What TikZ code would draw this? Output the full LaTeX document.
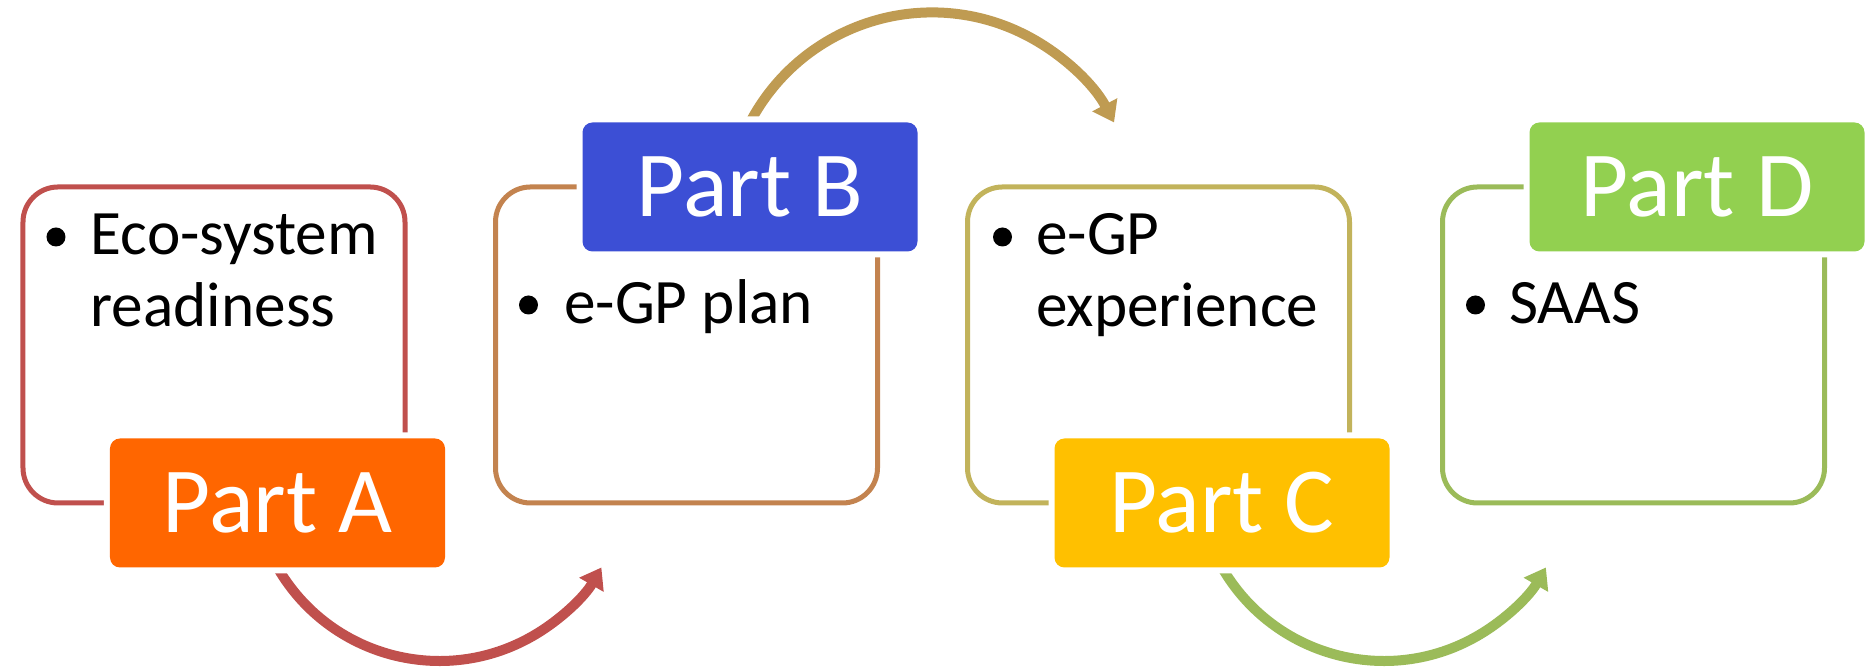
\documentclass[tikz,border=0pt]{standalone}
\usepackage{fontspec}
\setmainfont{Carlito}
\usetikzlibrary{arrows.meta,positioning,backgrounds}

\definecolor{lineA}{HTML}{C0504D}
\definecolor{lineB}{HTML}{C3834F}
\definecolor{lineC}{HTML}{C2B35B}
\definecolor{lineD}{HTML}{9BBB59}
\definecolor{arrowBC}{HTML}{BF9B52}
\definecolor{fillA}{HTML}{FF6600}
\definecolor{fillB}{HTML}{3C4FD5}
\definecolor{fillC}{HTML}{FFC000}
\definecolor{fillD}{HTML}{92D050}

\tikzset{
  partbox/.style={draw, line width=0.05cm, rounded corners=0.35cm, outer sep=0pt,
    minimum width=3.82cm, minimum height=3.16cm},
  partlabel/.style={rounded corners=0.1cm, outer sep=0pt, inner sep=0pt,
    minimum width=3.35cm, minimum height=1.29cm, text=white,
    font=\fontsize{26.5}{30}\selectfont, preaction={draw=white, line width=0.12cm}},
  itemtext/.style={anchor=base west, align=left, inner sep=0pt,
    font=\fontsize{18}{20.5}\selectfont},
  dot/.style={circle, fill=black, inner sep=0pt, minimum size=0.19cm},
  cyclearrow/.style={line width=0.1cm, -{Triangle[width=0.27cm,length=0.2cm]}}
}

\begin{document}
\begin{tikzpicture}
		\useasboundingbox (0,0) rectangle (18.72,6.71);

		% Part A
		\node[partbox, draw=lineA] (boxA) at (2.14,3.26) {};
		\node[dot] (dotA) at ([xshift=0.33cm,yshift=-0.50cm]boxA.north west) {};
		\node[itemtext] (txtA) at ([xshift=0.67cm,yshift=-1.40cm]boxA.north west) {Eco-system\\readiness};
		\node[partlabel, fill=fillA] (labA) at ([xshift=0.635cm]boxA.south) {Part A};

		% Part B
		\node[partbox, draw=lineB] (boxB) at (6.865,3.26) {};
		\node[dot] (dotB) at ([xshift=0.33cm,yshift=-1.18cm]boxB.north west) {};
		\node[itemtext] (txtB) at ([xshift=0.68cm,yshift=-1.37cm]boxB.north west) {e-GP plan};
		\node[partlabel, fill=fillB] (labB) at ([xshift=0.635cm]boxB.north) {Part B};

		% Part C
		\node[partbox, draw=lineC] (boxC) at (11.585,3.26) {};
		\node[dot] (dotC) at ([xshift=0.35cm,yshift=-0.50cm]boxC.north west) {};
		\node[itemtext] (txtC) at ([xshift=0.68cm,yshift=-1.40cm]boxC.north west) {e-GP\\experience};
		\node[partlabel, fill=fillC] (labC) at ([xshift=0.635cm]boxC.south) {Part C};

		% Part D
		\node[partbox, draw=lineD] (boxD) at (16.335,3.26) {};
		\node[dot] (dotD) at ([xshift=0.33cm,yshift=-1.18cm]boxD.north west) {};
		\node[itemtext] (txtD) at ([xshift=0.66cm,yshift=-1.37cm]boxD.north west) {SAAS};
		\node[partlabel, fill=fillD] (labD) at ([xshift=0.635cm]boxD.north) {Part D};

		% Arrows between parts
		\begin{scope}[on background layer]
			\draw[cyclearrow, lineA] (labA.south) arc[start angle=210, end angle=330, radius=1.87cm] coordinate (endAB);
			\draw[cyclearrow, arrowBC] (labB.north) arc[start angle=152.3, end angle=27.7, radius=2.056cm] coordinate (endBC);
			\draw[cyclearrow, lineD] (labC.south) arc[start angle=210, end angle=330, radius=1.87cm] coordinate (endCD);
		\end{scope}
	\end{tikzpicture}
\end{document}
